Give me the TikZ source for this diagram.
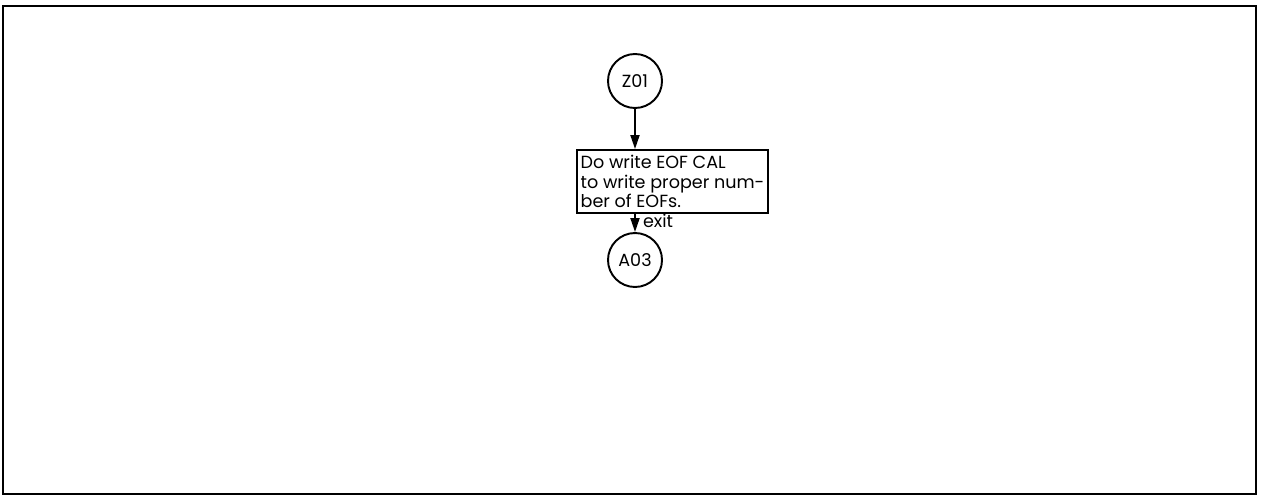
\documentclass[tikz,border=0pt]{standalone}
\usepackage{fontspec}
\setmainfont{Poppins}
\usepackage{tikz}
\usetikzlibrary{positioning,arrows.meta}

\begin{document}
\begin{tikzpicture}[
    every node/.style={
        font=\fontsize{10}{11}\selectfont,
        text=black
    },
    connector/.style={
        circle,
        draw=black,
        line width=1.1pt,
        minimum size=1.08cm,
        inner sep=0pt
    },
    procbox/.style={
        rectangle,
        draw=black,
        line width=1.1pt,
        minimum width=3.06cm,
        minimum height=1.26cm,
        align=left,
        inner sep=2pt
    },
    flow/.style={
        draw=black,
        line width=1.1pt,
        -{Triangle[length=2.8mm,width=1.8mm]}
    }
]

\useasboundingbox (0,0) rectangle (25.24,-9.96);
\draw[line width=1.5pt] (0.06,-0.12) rectangle (25.12,-9.88);

\node[connector] (Z01) at (12.70,-1.62) {Z01};

\node[procbox] (writeeof) at (13.45,-3.63) {Do write EOF CAL\\to write proper num-\\ber of EOFs.};

\node[connector] (A03) at (12.70,-5.20) {A03};

\draw[flow] (Z01) -- (Z01 |- writeeof.north);
\draw[flow] (Z01 |- writeeof.south) -- node[right, inner sep=4pt, pos=0.4] {exit} (A03);

\end{tikzpicture}
\end{document}
